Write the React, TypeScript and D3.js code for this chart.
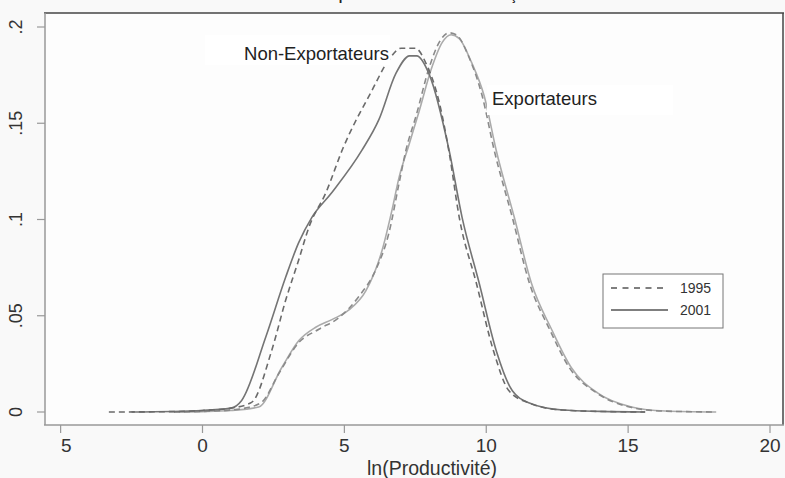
import React, { useEffect, useRef } from 'react';
import * as d3 from 'd3';

// density curves: [ln productivity, density]
const nonExp1995: [number, number][] = [
  [-3.3, 0], [-1, 0.0002], [0, 0.0008], [1, 0.002], [1.73, 0.005], [2.44, 0.032],
  [2.93, 0.058], [3.39, 0.079], [3.75, 0.096], [4.35, 0.114], [4.95, 0.137],
  [5.97, 0.167], [6.57, 0.183], [7.0, 0.189], [7.5, 0.189], [7.88, 0.181],
  [8.34, 0.161], [8.69, 0.135], [9.05, 0.101], [9.65, 0.067], [10.25, 0.032],
  [10.8, 0.011], [11.5, 0.0047], [12.7, 0.001], [14, 0.0003], [15.6, 0],
];
const nonExp2001: [number, number][] = [
  [-2.5, 0], [0, 0.0008], [1, 0.002], [1.38, 0.006], [2.23, 0.039], [2.93, 0.07],
  [3.39, 0.088], [3.85, 0.101], [4.56, 0.114], [5.62, 0.136], [6.22, 0.152],
  [6.82, 0.176], [7.3, 0.185], [7.55, 0.185], [8.0, 0.175], [8.69, 0.136],
  [9.15, 0.101], [9.75, 0.067], [10.35, 0.032], [10.92, 0.011], [11.52, 0.0047],
  [12.7, 0.001], [14, 0.0003], [15.6, 0],
];
const exp1995: [number, number][] = [
  [-1, 0], [0, 0.0003], [1, 0.001], [1.5, 0.002], [2.08, 0.005], [2.69, 0.02],
  [3.39, 0.036], [4.1, 0.043], [4.81, 0.049], [5.51, 0.06], [6.11, 0.074],
  [6.57, 0.093], [6.93, 0.119], [7.17, 0.136], [7.53, 0.154], [7.99, 0.179],
  [8.34, 0.192], [8.69, 0.197], [8.94, 0.196], [9.4, 0.184], [9.86, 0.164],
  [10.28, 0.136], [10.92, 0.101], [11.52, 0.067], [12.23, 0.043], [12.93, 0.023],
  [13.89, 0.0099], [15.05, 0.0026], [16.2, 0.0005], [18.1, 0],
];
const exp2001: [number, number][] = [
  [-1, 0], [0, 0.0002], [1, 0.0008], [1.98, 0.0026], [2.79, 0.023], [3.39, 0.037],
  [3.99, 0.044], [4.56, 0.048], [5.16, 0.053], [5.76, 0.063], [6.33, 0.084],
  [6.68, 0.105], [6.93, 0.122], [7.28, 0.139], [7.63, 0.156], [8.06, 0.178],
  [8.45, 0.192], [8.76, 0.196], [9.05, 0.194], [9.47, 0.182], [9.93, 0.164],
  [10.35, 0.136], [10.99, 0.101], [11.59, 0.067], [12.3, 0.043], [13.0, 0.023],
  [13.92, 0.0099], [15.12, 0.0026], [16.3, 0.0005], [18.1, 0],
];

const xTicks = [-5, 0, 5, 10, 15, 20];
const xTickLabels = ['−5', '0', '5', '10', '15', '20'];
const yTicks = [0, 0.05, 0.1, 0.15, 0.2];
const yTickLabels = ['0', '.05', '.1', '.15', '.2'];
const legendYears = ['1995', '2001'];

const W = 785;
const H = 478;
const FONT = '"Liberation Sans", Arial, sans-serif';

export default function App() {
  const svgRef = useRef<SVGSVGElement>(null);

  useEffect(() => {
    if (!svgRef.current) return;
    const svg = d3.select(svgRef.current);
    svg.selectAll('*').remove();

    const x = d3.scaleLinear().domain([0, 20]).range([202.5, 770]);
    const y = d3.scaleLinear().domain([0, 0.2]).range([412, 27]);

    svg.append('rect').attr('width', W).attr('height', H).attr('fill', '#f9f9f9');
    svg.append('rect')
      .attr('x', 45).attr('y', 13).attr('width', 738).attr('height', 412)
      .attr('fill', '#fdfdfd');

    // title, cut off at the top edge as in the original (only descenders show)
    svg.append('text')
      .attr('x', 229).attr('y', -0.5)
      .attr('font-family', FONT).attr('font-size', 13).attr('font-weight', 'bold')
      .attr('fill', '#222')
      .text('Distribution de la productivité des firmes françaises');

    // frame
    svg.append('line').attr('x1', 44).attr('x2', 784).attr('y1', 13).attr('y2', 13)
      .attr('stroke', '#444').attr('stroke-width', 1.5);
    svg.append('line').attr('x1', 783).attr('x2', 783).attr('y1', 13).attr('y2', 425)
      .attr('stroke', '#444').attr('stroke-width', 1.5);
    svg.append('line').attr('x1', 45).attr('x2', 45).attr('y1', 13).attr('y2', 425)
      .attr('stroke', '#999').attr('stroke-width', 1.5);
    svg.append('line').attr('x1', 44).attr('x2', 784).attr('y1', 425).attr('y2', 425)
      .attr('stroke', '#999').attr('stroke-width', 1.5);

    // y ticks
    yTicks.forEach((t, i) => {
      svg.append('line').attr('x1', 37).attr('x2', 45).attr('y1', y(t)).attr('y2', y(t))
        .attr('stroke', '#999').attr('stroke-width', 1.2);
      svg.append('text')
        .attr('transform', `translate(22,${y(t)}) rotate(-90)`)
        .attr('text-anchor', 'middle')
        .attr('font-family', FONT).attr('font-size', 18).attr('fill', '#333')
        .text(yTickLabels[i]);
    });

    // x ticks (the minus sign of -5 does not show in the original)
    xTicks.forEach((t, i) => {
      svg.append('line').attr('x1', x(t)).attr('x2', x(t)).attr('y1', 425).attr('y2', 433)
        .attr('stroke', '#999').attr('stroke-width', 1.2);
      const label = xTickLabels[i];
      const txt = svg.append('text')
        .attr('x', x(t)).attr('y', 452)
        .attr('text-anchor', 'middle')
        .attr('font-family', FONT).attr('font-size', 19).attr('fill', '#333');
      if (label.startsWith('−')) {
        txt.append('tspan').attr('fill-opacity', 0).text('−');
        txt.append('tspan').text(label.slice(1));
      } else {
        txt.text(label);
      }
    });

    svg.append('text')
      .attr('x', 432).attr('y', 475)
      .attr('text-anchor', 'middle')
      .attr('font-family', FONT).attr('font-size', 19.5).attr('fill', '#333')
      .text('ln(Productivité)');

    const line = d3.line<[number, number]>()
      .x(d => x(d[0]))
      .y(d => y(d[1]))
      .curve(d3.curveMonotoneX);

    const curves = [
      { data: exp2001, color: '#ababab', dash: null },
      { data: exp1995, color: '#8a8a8a', dash: '6,4' },
      { data: nonExp2001, color: '#747474', dash: null },
      { data: nonExp1995, color: '#6a6a6a', dash: '6,4' },
    ];
    curves.forEach(c => {
      svg.append('path')
        .attr('d', line(c.data))
        .attr('fill', 'none')
        .attr('stroke', c.color)
        .attr('stroke-width', 1.6)
        .attr('stroke-dasharray', c.dash);
    });

    // series labels
    svg.append('rect').attr('x', 205).attr('y', 35).attr('width', 185).attr('height', 30)
      .attr('fill', '#ffffff');
    svg.append('text')
      .attr('x', 389).attr('y', 60).attr('text-anchor', 'end')
      .attr('font-family', FONT).attr('font-size', 18.5).attr('fill', '#222')
      .text('Non-Exportateurs');
    svg.append('rect').attr('x', 487).attr('y', 85).attr('width', 186).attr('height', 30)
      .attr('fill', '#ffffff');
    svg.append('text')
      .attr('x', 492).attr('y', 105)
      .attr('font-family', FONT).attr('font-size', 18.5).attr('fill', '#222')
      .text('Exportateurs');

    // legend
    const lg = svg.append('g');
    lg.append('rect').attr('x', 603).attr('y', 274).attr('width', 120).attr('height', 54)
      .attr('fill', '#fff').attr('stroke', '#777').attr('stroke-width', 1);
    legendYears.forEach((yr, i) => {
      const ly = 288 + i * 22;
      lg.append('line').attr('x1', 611).attr('x2', 668).attr('y1', ly).attr('y2', ly)
        .attr('stroke', '#555').attr('stroke-width', 1.4)
        .attr('stroke-dasharray', i === 0 ? '6,5.5' : null);
      lg.append('text')
        .attr('x', 680).attr('y', ly + 5)
        .attr('font-family', FONT).attr('font-size', 14).attr('fill', '#333')
        .text(yr);
    });
  }, []);

  return (
    <svg
      ref={svgRef}
      width={W}
      height={H}
      style={{ position: 'absolute', left: 0, top: 0, display: 'block' }}
    />
  );
}
